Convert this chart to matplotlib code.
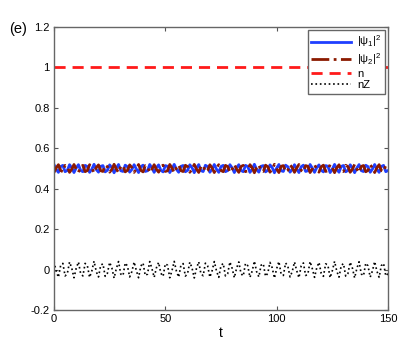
import numpy as np
import matplotlib.pyplot as plt

plt.rcParams['font.family'] = ['Liberation Sans', 'DejaVu Sans']
plt.rcParams['mathtext.fontset'] = 'custom'
plt.rcParams['mathtext.rm'] = 'Liberation Sans'
plt.rcParams['mathtext.it'] = 'Liberation Sans'

# time samples
t = np.arange(0, 151, 1.0)

# population difference nZ (oscillates about 0)
nZ = [0.040, -0.007, -0.038, 0.020, 0.031, -0.031, -0.020, 0.038, 0.007, -0.040,
      0.007, 0.038, -0.020, -0.031, 0.031, 0.020, -0.038, -0.007, 0.042, -0.010,
      -0.036, 0.022, 0.029, -0.033, -0.018, 0.036, 0.009, -0.042, 0.005, 0.040,
      -0.022, -0.029, 0.033, 0.018, -0.036, -0.009, 0.038, -0.005, -0.040, 0.018,
      0.033, -0.029, -0.022, 0.040, 0.005, -0.038, 0.009, 0.036, -0.018, -0.033,
      0.029, 0.022, -0.040, -0.005, 0.041, -0.008, -0.037, 0.021, 0.030, -0.032,
      -0.019, 0.037, 0.008, -0.041, 0.006, 0.039, -0.021, -0.030, 0.032, 0.019,
      -0.037, -0.006, 0.040, -0.007, -0.038, 0.020, 0.031, -0.031, -0.020, 0.038,
      0.007, -0.040, 0.007, 0.038, -0.020, -0.031, 0.031, 0.020, -0.038, -0.007,
      0.042, -0.010, -0.036, 0.022, 0.029, -0.033, -0.018, 0.036, 0.009, -0.042,
      0.005, 0.040, -0.022, -0.029, 0.033, 0.018, -0.036, -0.009, 0.038, -0.005,
      -0.040, 0.018, 0.033, -0.029, -0.022, 0.040, 0.005, -0.038, 0.009, 0.036,
      -0.018, -0.033, 0.029, 0.022, -0.040, -0.005, 0.041, -0.008, -0.037, 0.021,
      0.030, -0.032, -0.019, 0.037, 0.008, -0.041, 0.006, 0.039, -0.021, -0.030,
      0.032, 0.019, -0.037, -0.006, 0.040, -0.007, -0.038, 0.020, 0.031, -0.031,
      -0.020]
nZ = np.array(nZ)

# populations of the two modes, total n
psi1 = 0.5 + nZ / 2
psi2 = 0.5 - nZ / 2
n = psi1 + psi2

yticks = [-0.2, 0, 0.2, 0.4, 0.6, 0.8, 1.0, 1.2]
ytick_labels = ['-0.2', '0', '0.2', '0.4', '0.6', '0.8', '1', '1.2']
xticks = [0, 50, 100, 150]

fig = plt.figure(figsize=(4.15, 3.5), dpi=100)
ax = fig.add_axes([0.130, 0.114, 0.805, 0.809])

ax.plot(t, psi1, color='#1f3fff', lw=2.0, label=r'$|\psi_1|^2$')
ax.plot(t, psi2, color='#8b1a00', lw=2.0, ls='-.', label=r'$|\psi_2|^2$')
ax.plot(t, n, color='#ff1a1a', lw=2.0, ls='--', dashes=(4, 2.5), label='n')
ax.plot(t, nZ, color='black', lw=1.2, ls=':', label='nZ')

ax.set_xlim(0, 150)
ax.set_ylim(-0.2, 1.2)
ax.set_xticks(xticks)
ax.set_yticks(yticks)
ax.set_yticklabels(ytick_labels)
ax.tick_params(direction='in', labelsize=8, length=3, top=True, right=True,
               color='#555555', pad=3)
for s in ax.spines.values():
    s.set_color('#666666')
    s.set_linewidth(1.0)
ax.set_xlabel('t', fontsize=10, labelpad=1)

leg = ax.legend(loc='upper right', fontsize=8, handlelength=3.6,
                borderaxespad=0.3, labelspacing=0.15, fancybox=False,
                framealpha=1, handletextpad=0.5, borderpad=0.3)
leg.get_frame().set_edgecolor('#666666')
leg.get_frame().set_linewidth(1.0)

fig.text(0.022, 0.905, '(e)', fontsize=10.5)

fig.savefig('out.png', dpi=100)
